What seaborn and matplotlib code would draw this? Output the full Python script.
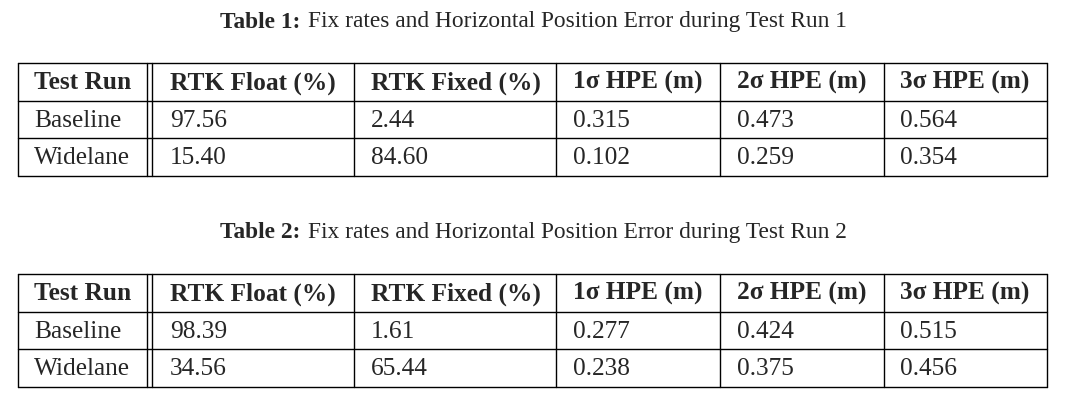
import matplotlib
matplotlib.use("Agg")
import matplotlib.pyplot as plt
import seaborn as sns

sns.set_theme(style="white")
plt.rcParams["font.family"] = "Liberation Serif"

headers = ["Test Run", "RTK Float (%)", "RTK Fixed (%)", "1σ HPE (m)", "2σ HPE (m)", "3σ HPE (m)"]
captions = ["Fix rates and Horizontal Position Error during Test Run 1",
            "Fix rates and Horizontal Position Error during Test Run 2"]
run_names = ["Baseline", "Widelane"]
table1 = [["97.56", "2.44", "0.315", "0.473", "0.564"],
          ["15.40", "84.60", "0.102", "0.259", "0.354"]]
table2 = [["98.39", "1.61", "0.277", "0.424", "0.515"],
          ["34.56", "65.44", "0.238", "0.375", "0.456"]]

W, H = 1065, 402
fig = plt.figure(figsize=(W / 100, H / 100), dpi=100)
ax = fig.add_axes([0, 0, 1, 1])
ax.set_xlim(0, W)
ax.set_ylim(H, 0)
ax.axis("off")

left, right = 18, 1047
seps = [354, 556, 720, 884]
text_x = [34, 170, 371, 573, 737, 900]
fs = 18.3

def draw_table(top, rows, num, caption):
    rh = 37.7
    ax.text(220, top - 42, f"Table {num}:", fontweight="bold", ha="left", va="center", fontsize=16.8)
    ax.text(308, top - 42, caption, ha="left", va="center", fontsize=16.8)
    bottom = top + rh * 3
    lw = 1.0
    for k in range(4):
        y = top + rh * k
        ax.plot([left, right], [y, y], color="black", lw=lw)
    for x in [left, 147, 152] + seps + [right]:
        ax.plot([x, x], [top, bottom], color="black", lw=lw)
    for j, h in enumerate(headers):
        ax.text(text_x[j], top + rh * 0.5, h, fontweight="bold", ha="left", va="center", fontsize=fs)
    for i, (name, vals) in enumerate(zip(run_names, rows)):
        y = top + rh * (i + 1.5)
        ax.text(text_x[0], y, name, ha="left", va="center", fontsize=fs)
        for j, v in enumerate(vals):
            ax.text(text_x[j + 1], y, v, ha="left", va="center", fontsize=fs)

draw_table(64, table1, 1, captions[0])
draw_table(275, table2, 2, captions[1])

fig.savefig("out.png", dpi=100)
